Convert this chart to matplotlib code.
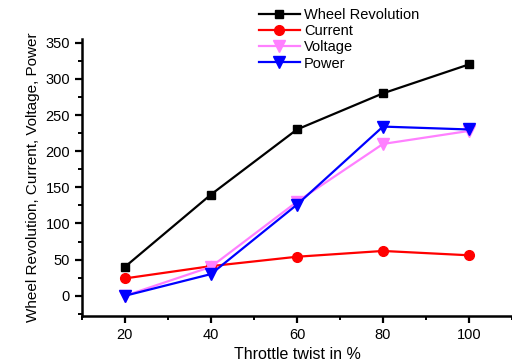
import matplotlib
matplotlib.use("Agg")
import matplotlib.pyplot as plt
from matplotlib.ticker import MultipleLocator

plt.rcParams['font.family'] = ['Liberation Sans', 'DejaVu Sans']

throttle = [20, 40, 60, 80, 100]
wheel = [40, 140, 230, 280, 320]
current = [24, 41, 54, 62, 56]
voltage = [0, 40, 130, 210, 228]
power = [0, 30, 126, 234, 230]

fig = plt.figure(figsize=(5.12, 3.62), dpi=100)
ax = fig.add_axes([0.16, 0.127, 0.84, 0.765])

ax.plot(throttle, wheel, color='black', marker='s', ms=6, lw=1.6, label='Wheel Revolution')
ax.plot(throttle, current, color='red', marker='o', ms=7, lw=1.6, label='Current')
ax.plot(throttle, voltage, color='#ff80ff', marker='v', ms=8, lw=1.6, label='Voltage')
ax.plot(throttle, power, color='blue', marker='v', ms=8, lw=1.6, label='Power')

ax.set_xlim(10, 110)
ax.set_ylim(-28, 355)
ax.xaxis.set_minor_locator(MultipleLocator(10))
ax.yaxis.set_minor_locator(MultipleLocator(25))
ax.set_yticks([0, 50, 100, 150, 200, 250, 300, 350])
ax.set_xticks([20, 40, 60, 80, 100])

for s in ['top', 'right']:
    ax.spines[s].set_visible(False)
for s in ['left', 'bottom']:
    ax.spines[s].set_linewidth(1.8)
ax.tick_params(which='major', direction='out', length=5, width=1.6, labelsize=10.5)
ax.tick_params(which='minor', direction='out', length=3, width=1.4)

ax.set_xlabel('Throttle twist in %', fontsize=11.5)
ax.set_ylabel('Wheel Revolution, Current, Voltage, Power', fontsize=11)

fig.legend(loc='upper left', bbox_to_anchor=(0.49, 1.0), frameon=False, fontsize=10.5,
           handlelength=2.8, labelspacing=0.15, borderaxespad=0.15, handletextpad=0.3)

fig.savefig('out.png', dpi=100)
